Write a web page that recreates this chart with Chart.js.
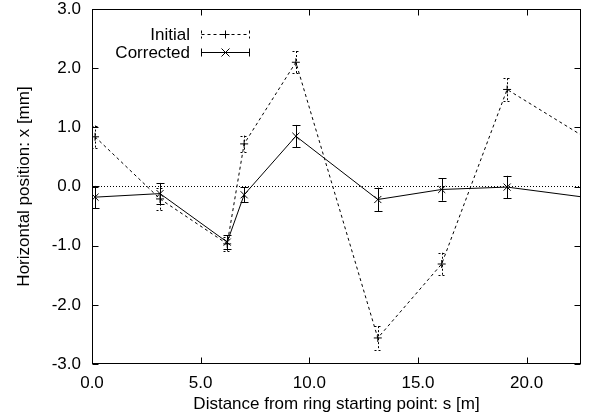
<!DOCTYPE html>
<html>
<head>
<meta charset="utf-8">
<script src="https://cdn.jsdelivr.net/npm/chart.js@4/dist/chart.umd.min.js"></script>
<style>
html,body{margin:0;padding:0;background:#fff;}
#wrap{width:589px;height:416px;}
</style>
</head>
<body>
<div id="wrap"><canvas id="c" width="589" height="416"></canvas></div>
<script>
// ---- data ----
const sPositions   = [0.14, 3.13, 6.22, 7.0, 9.38, 13.15, 16.09, 19.1, 22.64];
const initialX     = [0.84, -0.21, -0.97, 0.72, 2.10, -2.56, -1.31, 1.64, 0.84];
const initialErr   = [0.19, 0.19, 0.12, 0.14, 0.19, 0.20, 0.19, 0.19, 0.19];
const correctedX   = [-0.18, -0.12, -0.94, -0.14, 0.85, -0.22, -0.05, -0.01, -0.18];
const correctedErr = [0.19, 0.18, 0.12, 0.13, 0.19, 0.20, 0.19, 0.19, 0.19];
const xTicks = [0, 5, 10, 15, 20];
const yTicks = [-3, -2, -1, 0, 1, 2, 3];
const seriesNames = ['Initial', 'Corrected'];
const xTitle = 'Distance from ring starting point: s [m]';
const yTitle = 'Horizontal position: x [mm]';

const FONT = '"Liberation Sans", Arial, Helvetica, sans-serif';
const FS = 17;

function pts(xs, ys) { return xs.map((x, i) => ({x: x, y: ys[i]})); }

const errorBars = {
  id: 'errorBars',
  afterDatasetsDraw(chart) {
    const ctx = chart.ctx, a = chart.chartArea;
    const xs = chart.scales.x, ys = chart.scales.y;
    ctx.save();
    ctx.beginPath(); ctx.rect(a.left, a.top, a.right - a.left, a.bottom - a.top); ctx.clip();
    chart.data.datasets.forEach(ds => {
      if (!ds.errors) return;
      ctx.strokeStyle = '#000';
      ctx.lineWidth = 1;
      ctx.setLineDash(ds.errDash || []);
      ds.data.forEach((p, i) => {
        const e = ds.errors[i];
        const px = Math.round(xs.getPixelForValue(p.x)) + 0.5;
        const y1 = ys.getPixelForValue(p.y + e), y2 = ys.getPixelForValue(p.y - e);
        ctx.beginPath();
        ctx.moveTo(px, y1); ctx.lineTo(px, y2);
        ctx.moveTo(px - 4, Math.round(y1) + 0.5); ctx.lineTo(px + 4, Math.round(y1) + 0.5);
        ctx.moveTo(px - 4, Math.round(y2) + 0.5); ctx.lineTo(px + 4, Math.round(y2) + 0.5);
        ctx.stroke();
      });
    });
    ctx.restore();
  }
};

const frame = {
  id: 'frame',
  afterDatasetsDraw(chart) {
    const ctx = chart.ctx, a = chart.chartArea;
    const xs = chart.scales.x, ys = chart.scales.y;
    const L = Math.round(a.left) + 0.5, R = Math.round(a.right) - 0.5;
    const T = Math.round(a.top) + 0.5, B = Math.round(a.bottom) - 0.5;
    ctx.save();
    ctx.strokeStyle = '#000'; ctx.lineWidth = 1; ctx.setLineDash([]);
    ctx.strokeRect(L, T, R - L, B - T);
    ctx.beginPath();
    const tl = 6;
    xTicks.forEach(v => {
      const px = Math.round(xs.getPixelForValue(v)) + 0.5;
      ctx.moveTo(px, B); ctx.lineTo(px, B - tl);
      ctx.moveTo(px, T); ctx.lineTo(px, T + tl);
    });
    yTicks.forEach(v => {
      const py = Math.round(ys.getPixelForValue(v)) + 0.5;
      ctx.moveTo(L, py); ctx.lineTo(L + tl, py);
      ctx.moveTo(R, py); ctx.lineTo(R - tl, py);
    });
    ctx.stroke();
    ctx.restore();
  }
};

const keyBox = {
  id: 'keyBox',
  afterDraw(chart) {
    const ctx = chart.ctx, a = chart.chartArea;
    ctx.save();
    ctx.font = FS + 'px ' + FONT;
    ctx.fillStyle = '#000';
    ctx.textAlign = 'right';
    ctx.textBaseline = 'middle';
    const textRight = a.left + 98;
    const x1 = a.left + 109.5, x2 = a.left + 157.5, xm = (x1 + x2) / 2;
    const rows = [
      {name: seriesNames[0], y: a.top + 25.5, dash: [3, 3], marker: 'plus'},
      {name: seriesNames[1], y: a.top + 43.5, dash: [], marker: 'x'}
    ];
    rows.forEach(r => {
      ctx.fillText(r.name, textRight, r.y + 1);
      ctx.strokeStyle = '#000'; ctx.lineWidth = 1;
      ctx.setLineDash(r.dash);
      ctx.beginPath();
      ctx.moveTo(x1, r.y); ctx.lineTo(x2, r.y);
      ctx.moveTo(x1, r.y - 4); ctx.lineTo(x1, r.y + 4);
      ctx.moveTo(x2, r.y - 4); ctx.lineTo(x2, r.y + 4);
      ctx.stroke();
      ctx.setLineDash([]);
      ctx.beginPath();
      if (r.marker === 'plus') {
        ctx.moveTo(xm - 4, r.y); ctx.lineTo(xm + 4, r.y);
        ctx.moveTo(xm, r.y - 4); ctx.lineTo(xm, r.y + 4);
      } else {
        ctx.moveTo(xm - 4, r.y - 4); ctx.lineTo(xm + 4, r.y + 4);
        ctx.moveTo(xm - 4, r.y + 4); ctx.lineTo(xm + 4, r.y - 4);
      }
      ctx.stroke();
    });
    ctx.restore();
  }
};

new Chart(document.getElementById('c'), {
  type: 'scatter',
  data: {
    datasets: [
      {
        label: 'zero',
        data: [{x: 0, y: 0}, {x: 22.5, y: 0}],
        showLine: true, borderColor: '#000', borderWidth: 1,
        borderDash: [1, 2], pointRadius: 0, pointHoverRadius: 0
      },
      {
        label: seriesNames[0],
        data: pts(sPositions, initialX),
        errors: initialErr, errDash: [2, 2],
        showLine: true, borderColor: '#000', borderWidth: 1, borderDash: [3, 3],
        pointStyle: 'cross', pointRadius: 4, pointBorderColor: '#000', pointBorderWidth: 1,
        pointBackgroundColor: '#000'
      },
      {
        label: seriesNames[1],
        data: pts(sPositions, correctedX),
        errors: correctedErr, errDash: [],
        showLine: true, borderColor: '#000', borderWidth: 1,
        pointStyle: 'crossRot', pointRadius: 5, pointBorderColor: '#000', pointBorderWidth: 1,
        pointBackgroundColor: '#000'
      }
    ]
  },
  options: {
    responsive: false,
    animation: false,
    layout: {padding: {top: 9, right: 8, left: 0, bottom: 0}},
    plugins: {legend: {display: false}, tooltip: {enabled: false}},
    elements: {line: {tension: 0}},
    scales: {
      x: {
        type: 'linear', min: 0, max: 22.5,
        afterBuildTicks: s => { s.ticks = xTicks.map(v => ({value: v})); },
        afterFit: s => { s.height = 52; s.paddingLeft = 0; s.paddingRight = 0; },
        grid: {display: false, drawTicks: false},
        border: {display: false},
        ticks: {color: '#000', font: {family: FONT, size: FS}, padding: 9,
                maxRotation: 0, callback: v => v.toFixed(1)},
        title: {display: true, text: xTitle, color: '#000',
                font: {family: FONT, size: FS}, padding: {top: 4, bottom: 1}}
      },
      y: {
        type: 'linear', min: -3, max: 3,
        afterBuildTicks: s => { s.ticks = yTicks.map(v => ({value: v})); },
        afterFit: s => { s.width = 92; s.paddingTop = 0; s.paddingBottom = 0; },
        grid: {display: false, drawTicks: false},
        border: {display: false},
        ticks: {color: '#000', font: {family: FONT, size: FS}, padding: 11,
                callback: v => v.toFixed(1)},
        title: {display: true, text: yTitle, color: '#000',
                font: {family: FONT, size: FS}, padding: {top: 14, bottom: 0}}
      }
    }
  },
  plugins: [errorBars, frame, keyBox]
});
</script>
</body>
</html>
